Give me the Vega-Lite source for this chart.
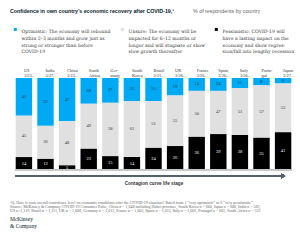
{
  "$schema": "https://vega.github.io/schema/vega-lite/v6.json",
  "background": "white",
  "padding": {"left": 10, "top": 8, "right": 0, "bottom": 0},
  "config": {"view": {"stroke": null}, "font": "Liberation Serif"},
  "title": {
    "text": [
      "¹Q: How is your overall confidence level on economic conditions after the COVID-19 situation? Rated from 1 “very optimistic” to 6 “very pessimistic”.",
      "Source: McKinsey & Company COVID-19 Consumer Pulse, China n = 1,048 including Hubei province, South Korea n = 600, Japan n = 600, India n = 582,",
      "US n=1,119, Brazil n = 1,111, UK n = 1,008, Germany n = 1,012, France n = 1,003, Spain n = 1,015, Italy n = 1,001, Portugal n = 601, South Africa n = 533"
    ],
    "subtitle": ["McKinsey", "\u2003& Company"],
    "orient": "bottom",
    "anchor": "start",
    "font": "Liberation Serif",
    "fontSize": 4,
    "fontWeight": "normal",
    "lineHeight": 4,
    "color": "#666666",
    "subtitleFont": "Liberation Serif",
    "subtitleFontSize": 5.5,
    "subtitleLineHeight": 7.4,
    "subtitleColor": "#051C2C",
    "subtitlePadding": 4,
    "offset": 16
  },
  "resolve": {"legend": {"color": "independent"}},
  "vconcat": [
    {
      "title": {
        "text": "Confidence in own country’s economic recovery after COVID-19,¹",
        "anchor": "start",
        "font": "Liberation Sans",
        "fontSize": 5.3,
        "fontWeight": "bold",
        "color": "#051C2C",
        "offset": -5.3
      },
      "resolve": {"legend": {"color": "independent"}},
      "vconcat": [
        {
          "width": 287,
          "height": 98.4,
          "title": {
            "text": "% of respondents by country",
            "anchor": "start",
            "dx": 183,
            "font": "Liberation Sans",
            "fontSize": 5.3,
            "fontWeight": "normal",
            "color": "#666666",
            "offset": 10
          },
          "data": {
            "values": [
              {"country": "US", "attitude": "Optimistic", "rank": 3, "pct": 41},
              {"country": "US", "attitude": "Unsure", "rank": 2, "pct": 45},
              {"country": "US", "attitude": "Pessimistic", "rank": 1, "pct": 14},
              {"country": "India", "attitude": "Optimistic", "rank": 3, "pct": 52},
              {"country": "India", "attitude": "Unsure", "rank": 2, "pct": 36},
              {"country": "India", "attitude": "Pessimistic", "rank": 1, "pct": 12},
              {"country": "China", "attitude": "Optimistic", "rank": 3, "pct": 47},
              {"country": "China", "attitude": "Unsure", "rank": 2, "pct": 48},
              {"country": "China", "attitude": "Pessimistic", "rank": 1, "pct": 5},
              {"country": "South Africa", "attitude": "Optimistic", "rank": 3, "pct": 28},
              {"country": "South Africa", "attitude": "Unsure", "rank": 2, "pct": 49},
              {"country": "South Africa", "attitude": "Pessimistic", "rank": 1, "pct": 23},
              {"country": "Germany", "attitude": "Optimistic", "rank": 3, "pct": 27},
              {"country": "Germany", "attitude": "Unsure", "rank": 2, "pct": 58},
              {"country": "Germany", "attitude": "Pessimistic", "rank": 1, "pct": 15},
              {"country": "South Korea", "attitude": "Optimistic", "rank": 3, "pct": 25},
              {"country": "South Korea", "attitude": "Unsure", "rank": 2, "pct": 61},
              {"country": "South Korea", "attitude": "Pessimistic", "rank": 1, "pct": 14},
              {"country": "Brazil", "attitude": "Optimistic", "rank": 3, "pct": 25},
              {"country": "Brazil", "attitude": "Unsure", "rank": 2, "pct": 51},
              {"country": "Brazil", "attitude": "Pessimistic", "rank": 1, "pct": 24},
              {"country": "UK", "attitude": "Optimistic", "rank": 3, "pct": 19},
              {"country": "UK", "attitude": "Unsure", "rank": 2, "pct": 55},
              {"country": "UK", "attitude": "Pessimistic", "rank": 1, "pct": 26},
              {"country": "France", "attitude": "Optimistic", "rank": 3, "pct": 14},
              {"country": "France", "attitude": "Unsure", "rank": 2, "pct": 50},
              {"country": "France", "attitude": "Pessimistic", "rank": 1, "pct": 36},
              {"country": "Spain", "attitude": "Optimistic", "rank": 3, "pct": 14},
              {"country": "Spain", "attitude": "Unsure", "rank": 2, "pct": 47},
              {"country": "Spain", "attitude": "Pessimistic", "rank": 1, "pct": 39},
              {"country": "Italy", "attitude": "Optimistic", "rank": 3, "pct": 11},
              {"country": "Italy", "attitude": "Unsure", "rank": 2, "pct": 51},
              {"country": "Italy", "attitude": "Pessimistic", "rank": 1, "pct": 38},
              {"country": "Portugal", "attitude": "Optimistic", "rank": 3, "pct": 8},
              {"country": "Portugal", "attitude": "Unsure", "rank": 2, "pct": 57},
              {"country": "Portugal", "attitude": "Pessimistic", "rank": 1, "pct": 35},
              {"country": "Japan", "attitude": "Optimistic", "rank": 3, "pct": 6},
              {"country": "Japan", "attitude": "Unsure", "rank": 2, "pct": 53},
              {"country": "Japan", "attitude": "Pessimistic", "rank": 1, "pct": 41}
            ]
          },
          "layer": [
            {
              "mark": {"type": "bar"},
              "encoding": {
                "x": {
                  "field": "country",
                  "type": "nominal",
                  "scale": {
                    "domain": ["US", "India", "China", "South Africa", "Germany", "South Korea", "Brazil", "UK", "France", "Spain", "Italy", "Portugal", "Japan"],
                    "paddingInner": 0.24,
                    "paddingOuter": 0.264
                  },
                  "axis": {
                    "orient": "top",
                    "bandPosition": 0,
                    "labelAlign": "left",
                    "labelBaseline": "bottom",
                    "labelAngle": 0,
                    "labelExpr": "{'US': ['US', '3/23–', '3/29'], 'India': ['India', '3/27–', '3/29'], 'China': ['China', '3/23–', '3/30'], 'South Africa': ['South', 'Africa', '3/24–', '3/26'], 'Germany': ['Ger-', 'many', '3/26–', '3/28'], 'South Korea': ['South', 'Korea', '3/27–', '3/29'], 'Brazil': ['Brazil', '3/21–', '3/24'], 'UK': ['UK', '3/26–', '3/28'], 'France': ['France', '3/26–', '3/28'], 'Spain': ['Spain', '3/26–', '3/28'], 'Italy': ['Italy', '3/26–', '3/28'], 'Portugal': ['Portu-', 'gal', '3/26–', '3/28'], 'Japan': ['Japan', '3/27–', '3/29']}[datum.label]",
                    "labelFont": "Liberation Serif",
                    "labelFontSize": 4.4,
                    "labelLineHeight": 5.2,
                    "labelColor": "#333333",
                    "labelPadding": 6,
                    "labelOverlap": false,
                    "labelBound": false,
                    "labelLimit": 0,
                    "ticks": false,
                    "domain": false,
                    "title": null
                  }
                },
                "y": {
                  "field": "pct",
                  "type": "quantitative",
                  "stack": "zero",
                  "scale": {"domain": [-7, 100], "nice": false, "zero": false},
                  "axis": null
                },
                "color": {
                  "field": "attitude",
                  "type": "nominal",
                  "scale": {
                    "domain": ["Optimistic", "Unsure", "Pessimistic"],
                    "range": ["#00A9F4", "#E0E0E0", "#000000"]
                  },
                  "legend": {
                    "orient": "top",
                    "direction": "horizontal",
                    "title": null,
                    "symbolType": "square",
                    "symbolSize": 9,
                    "symbolStrokeWidth": 0,
                    "labelFont": "DejaVu Serif",
                    "labelFontSize": 4.6,
                    "labelLineHeight": 4.3,
                    "labelBaseline": "top",
                    "labelColor": "#333333",
                    "labelLimit": 0,
                    "labelOffset": 4,
                    "columnPadding": 8,
                    "padding": 3,
                    "offset": 10,
                    "labelExpr": "{'Optimistic': ['Optimistic:  The economy will rebound', 'within 2–3 months and grow just as', 'strong or stronger than before', 'COVID-19'], 'Unsure': ['Unsure:  The economy will be', 'impacted for 6–12 months or', 'longer and will stagnate or show', 'slow growth thereafter'], 'Pessimistic': ['Pessimistic:   COVID-19 will', 'have a lasting impact on the', 'economy and show regres-', 'sion/fall into lengthy recession']}[datum.label]"
                  }
                },
                "order": {"field": "rank", "type": "quantitative"}
              }
            },
            {
              "mark": {"type": "text", "font": "Liberation Serif", "fontSize": 4.5},
              "encoding": {
                "x": {"field": "country", "type": "nominal", "axis": null},
                "y": {"field": "pct", "type": "quantitative", "stack": "zero", "bandPosition": 0.5},
                "detail": {"field": "attitude"},
                "order": {"field": "rank", "type": "quantitative"},
                "text": {"field": "pct", "type": "quantitative"},
                "color": {
                  "condition": {"test": "datum.attitude === 'Pessimistic'", "value": "#FFFFFF"},
                  "value": "#333333"
                }
              }
            },
            {
              "mark": {"type": "rule", "color": "#C8C8C8", "strokeWidth": 0.8},
              "encoding": {
                "x": {"datum": "US", "type": "nominal", "bandPosition": 0, "axis": null},
                "x2": {"datum": "Japan", "bandPosition": 1},
                "y": {"datum": 0, "type": "quantitative"}
              }
            },
            {
              "mark": {"type": "rule", "color": "#56616B", "strokeWidth": 1},
              "encoding": {
                "x": {"datum": "US", "type": "nominal", "bandPosition": 0, "axis": null},
                "x2": {"datum": "Japan", "bandPosition": 0.5},
                "y": {"datum": -6.5, "type": "quantitative"}
              }
            },
            {
              "mark": {"type": "point", "shape": "triangle-right", "filled": true, "color": "#56616B", "size": 22, "opacity": 1},
              "encoding": {
                "x": {
                  "datum": "Japan",
                  "type": "nominal",
                  "axis": {
                    "orient": "bottom",
                    "labels": false,
                    "ticks": false,
                    "domain": false,
                    "title": "Contagion curve life stage",
                    "titleFont": "Liberation Sans",
                    "titleFontSize": 4.7,
                    "titleFontWeight": "bold",
                    "titleColor": "#333333",
                    "titlePadding": 4
                  }
                },
                "y": {"datum": -6.5, "type": "quantitative"}
              }
            }
          ],
          "resolve": {"axis": {"x": "independent"}}
        }
      ]
    }
  ]
}
